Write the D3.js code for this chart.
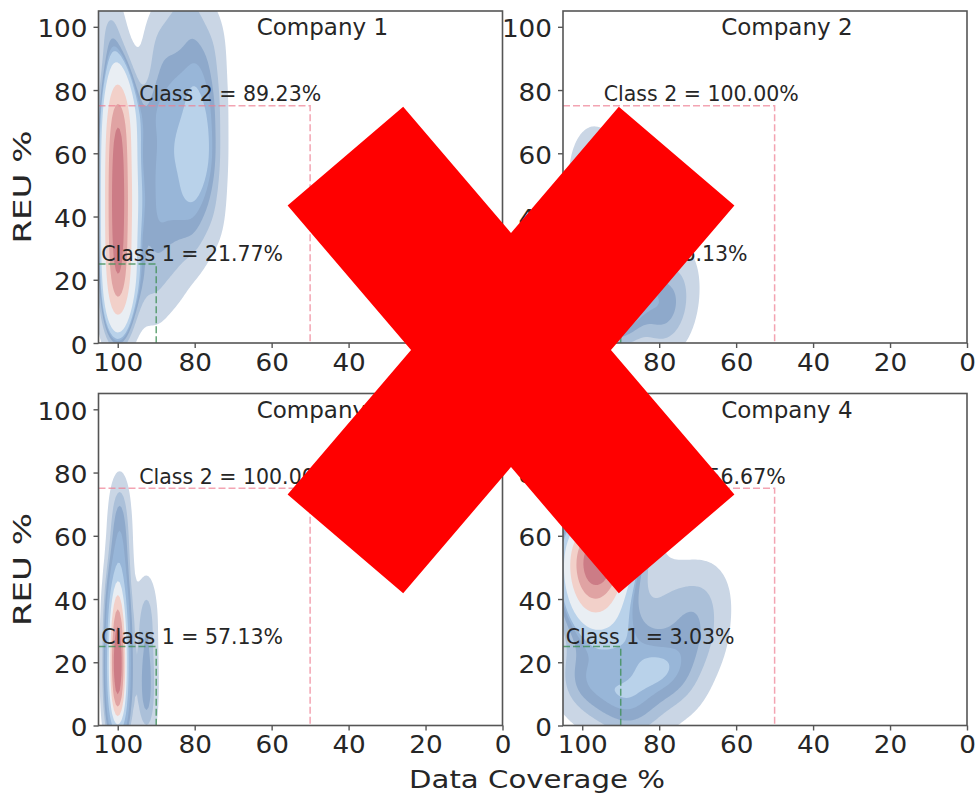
<!DOCTYPE html>
<html>
<head>
<meta charset="utf-8">
<script src="https://cdn.jsdelivr.net/npm/d3@7"></script>
<style>
  body { margin: 0; background: #fff; }
  svg { display: block; }
  text { font-family: "DejaVu Sans", sans-serif; fill: #262626; }
</style>
</head>
<body>
<svg id="chart" width="978" height="796"></svg>
<script>
// ---- data -------------------------------------------------------------
const companies = ["Company 1", "Company 2", "Company 3", "Company 4"];
const class1Shares = ["21.77", "36.13", "57.13", "3.03"];
const class2Shares = ["89.23", "100.00", "100.00", "56.67"];
const xTicks = [100, 80, 60, 40, 20, 0];
const yTicks = [0, 20, 40, 60, 80, 100];
const class1Bounds = [90, 25];   // coverage >= 90, REU <= 25
const class2Bounds = [50, 75];   // coverage >= 50, REU <= 75

// observations per company: data coverage %, REU %, weight
const c1Coverage = [100, 100, 100, 100, 100, 100, 100, 100,
                    94, 94, 94,
                    90, 90, 90, 90, 90, 85, 85, 85, 85, 85, 80, 80, 80, 80, 80,
                    75, 75, 75, 75, 102];
const c1REU      = [10, 20, 30, 40, 50, 60, 70, 80,
                    20, 45, 70,
                    15, 35, 55, 75, 95, 22, 42, 62, 82, 104, 32, 50, 66, 85, 105,
                    40, 58, 76, 95, 100];
const c1Weight   = [1.5, 1.8, 2, 2, 2, 2, 1.8, 1.5,
                    0.4, 0.4, 0.4,
                    0.5, 0.7, 0.7, 0.7, 0.65, 0.5, 0.7, 0.7, 0.7, 0.6, 0.6, 0.72, 0.78, 0.72, 0.6,
                    0.5, 0.68, 0.68, 0.55, 0.8];

const c2Coverage = [98, 96, 94, 90, 86, 80, 76, 97, 74];
const c2REU      = [30, 18, 42, 12, 22, 10, 12, 55, 22];
const c2Weight   = [3, 3, 2, 2, 1.5, 1, 0.6, 1, 0.4];

const c3Coverage = [100, 100, 100, 100, 100, 99.5, 99.5, 99.5, 92.5, 92.5, 92.5, 92.5];
const c3REU      = [3, 13, 23, 33, 43, 55, 66, 74, 5, 18, 32, 41];
const c3Weight   = [2.5, 3.5, 3.5, 3, 2, 1.2, 0.8, 0.35, 1, 1, 0.8, 0.4];

const c4Coverage = [96, 97, 99, 90, 82, 75, 70, 68, 100, 92, 85, 78, 88];
const c4REU      = [54, 44, 36, 30, 20, 15, 28, 42, 15, 8, 5, 40, 62];
const c4Weight   = [3, 1, 0.5, 0.5, 0.45, 0.42, 0.4, 0.3, 0.55, 0.45, 0.38, 0.3, 0.5];

// kernel bandwidths (coverage, REU) per company
const bandwidthCoverage = [3, 4, 2, 5.5];
const bandwidthREU      = [10, 9, 8, 9];

// ---- style ------------------------------------------------------------
const bandColors = ["#cad6e5", "#abc0d9", "#8ea9cb", "#98b6d8", "#b9d2ea",
                    "#e9eef3", "#f2d0c9", "#e0a3a3", "#cc7c86"];
const colX = [[98.5, 502.5], [563, 967]];
const rowY = [[11, 343], [393.5, 725.5]];
const tickFont = 25, titleFont = 23, noteFont = 20.5, labelFont = 25;

const svg = d3.select("#chart");

const samples = [
  [c1Coverage, c1REU, c1Weight],
  [c2Coverage, c2REU, c2Weight],
  [c3Coverage, c3REU, c3Weight],
  [c4Coverage, c4REU, c4Weight]
];

// Gaussian KDE on a grid, iso-proportion levels like seaborn
const step = 0.5, g0 = -8, g1 = 115;
const nG = Math.round((g1 - g0) / step) + 1;

function densityGrid(cov, reu, wt, hx, hy) {
  const vals = new Float64Array(nG * nG);
  for (let j = 0; j < nG; j++) {
    const y = g0 + j * step;
    for (let i = 0; i < nG; i++) {
      const x = g0 + i * step;
      let s = 0;
      for (let k = 0; k < cov.length; k++) {
        const dx = (x - cov[k]) / hx, dy = (y - reu[k]) / hy;
        s += wt[k] * Math.exp(-0.5 * (dx * dx + dy * dy));
      }
      vals[i + j * nG] = s;
    }
  }
  return vals;
}

function isoLevels(vals, n, thresh) {
  const sorted = Array.from(vals).sort((a, b) => b - a);
  const total = d3.sum(sorted);
  const cum = [];
  let acc = 0;
  for (const v of sorted) { acc += v; cum.push(acc / total); }
  const props = d3.range(n).map(i => thresh + (1 - thresh) * i / (n - 1));
  return props.map(p => {
    const idx = d3.bisectLeft(cum, 1 - p);
    return sorted[Math.min(idx, sorted.length - 1)];
  });
}

// widen glyph runs slightly so the lettering keeps its proportions
function stretch(sel, factor) {
  sel.each(function () {
    const len = this.getComputedTextLength();
    d3.select(this).attr("textLength", len * factor).attr("lengthAdjust", "spacingAndGlyphs");
  });
}

companies.forEach((name, ci) => {
  const col = ci % 2, row = Math.floor(ci / 2);
  const [x0, x1] = colX[col];
  const [y0, y1] = rowY[row];
  const x = d3.scaleLinear().domain([105, 0]).range([x0, x1]);
  const y = d3.scaleLinear().domain([0, 105]).range([y1, y0]);

  const g = svg.append("g");
  const clipId = "clip" + ci;
  g.append("clipPath").attr("id", clipId)
    .append("rect").attr("x", x0).attr("y", y0).attr("width", x1 - x0).attr("height", y1 - y0);

  // density bands
  const [cov, reu, wt] = samples[ci];
  const vals = densityGrid(cov, reu, wt, bandwidthCoverage[ci], bandwidthREU[ci]);
  const levels = isoLevels(vals, 10, 0.05);
  const contours = d3.contours().size([nG, nG]).thresholds(levels.slice(0, 9))(vals);
  const proj = d3.geoTransform({
    point(px, py) {
      this.stream.point(x(g0 + (px - 0.5) * step), y(g0 + (py - 0.5) * step));
    }
  });
  const path = d3.geoPath(proj);
  g.append("g").attr("clip-path", `url(#${clipId})`)
    .selectAll("path").data(contours).join("path")
    .attr("d", path)
    .attr("fill", (d, i) => bandColors[i])
    .attr("stroke", "none");

  // class threshold guides
  const guides = g.append("g").attr("clip-path", `url(#${clipId})`).attr("fill", "none");
  guides.append("path")
    .attr("d", d3.line()([[x(105), y(class2Bounds[1])], [x(class2Bounds[0]), y(class2Bounds[1])], [x(class2Bounds[0]), y(0)]]))
    .attr("stroke", "#ee7e92").attr("stroke-opacity", 0.7)
    .attr("stroke-width", 1.5).attr("stroke-dasharray", "7,3");
  guides.append("path")
    .attr("d", d3.line()([[x(105), y(class1Bounds[1])], [x(class1Bounds[0]), y(class1Bounds[1])], [x(class1Bounds[0]), y(0)]]))
    .attr("stroke", "#3f8f55").attr("stroke-opacity", 0.8)
    .attr("stroke-width", 1.5).attr("stroke-dasharray", "7,3");

  // annotations
  g.append("text").attr("x", x(94.4)).attr("y", y(76.4))
    .style("font-size", noteFont + "px").text(`Class 2 = ${class2Shares[ci]}%`);
  g.append("text").attr("x", x(104.3)).attr("y", y(25.8))
    .style("font-size", noteFont + "px").text(`Class 1 = ${class1Shares[ci]}%`);
  g.append("text").attr("x", x(46.8)).attr("y", y(97.4))
    .attr("text-anchor", "middle").style("font-size", titleFont + "px").text(name);

  // frame
  g.append("rect").attr("x", x0).attr("y", y0).attr("width", x1 - x0).attr("height", y1 - y0)
    .attr("fill", "none").attr("stroke", "#555").attr("stroke-width", 1.6);

  // axes
  const xa = g.append("g").attr("transform", `translate(0,${y1})`)
    .call(d3.axisBottom(x).tickValues(xTicks).tickSize(5).tickPadding(5).tickFormat(d3.format("d")));
  const ya = g.append("g").attr("transform", `translate(${x0},0)`)
    .call(d3.axisLeft(y).tickValues(yTicks).tickSize(5).tickPadding(6).tickFormat(d3.format("d")));
  [xa, ya].forEach(a => {
    a.select(".domain").remove();
    a.selectAll(".tick line").attr("stroke", "#555").attr("stroke-width", 1.4);
    a.selectAll(".tick text").style("font-size", tickFont + "px").attr("fill", "#262626")
      .style("font-family", '"DejaVu Sans", sans-serif');
  });
  ya.selectAll(".tick text").attr("dy", "0.40em");
  stretch(xa.selectAll(".tick text"), 1.05);
  stretch(ya.selectAll(".tick text"), 1.05);

  if (col === 0) {
    svg.append("text")
      .attr("transform", `translate(31,${(y0 + y1) / 2 + 10}) rotate(-90)`)
      .attr("text-anchor", "middle").style("font-size", labelFont + "px")
      .attr("textLength", 113).attr("lengthAdjust", "spacingAndGlyphs")
      .text("REU %");
  }
});

svg.append("text").attr("x", 537).attr("y", 788)
  .attr("text-anchor", "middle").style("font-size", labelFont + "px")
  .attr("textLength", 256).attr("lengthAdjust", "spacingAndGlyphs")
  .text("Data Coverage %");

// red cross mark over the figure
const crossCenter = [511, 350];
const armReach = 255, armHalfWidth = 76, armAngle = 49.5 * Math.PI / 180;
const dirs = [[-1, -1], [1, -1], [1, 1], [-1, 1]];
const cross = [];
dirs.forEach(([sx, sy], k) => {
  const ux = sx * Math.cos(armAngle), uy = sy * Math.sin(armAngle);
  const nx = -uy, ny = ux;
  const tip = [crossCenter[0] + ux * armReach, crossCenter[1] + uy * armReach];
  cross.push([tip[0] - nx * armHalfWidth, tip[1] - ny * armHalfWidth]);
  cross.push([tip[0] + nx * armHalfWidth, tip[1] + ny * armHalfWidth]);
  // notch between this arm and the next one
  const [tx, ty] = dirs[(k + 1) % 4];
  const mx = (sx + tx) / 2, my = (sy + ty) / 2;
  const half = (mx === 0) ? armAngle : (Math.PI / 2 - armAngle);
  const d = armHalfWidth / Math.cos(half);
  cross.push([crossCenter[0] + mx * d, crossCenter[1] + my * d]);
});
svg.append("path").attr("d", d3.line()(cross) + "Z").attr("fill", "#ff0000");
</script>
</body>
</html>
